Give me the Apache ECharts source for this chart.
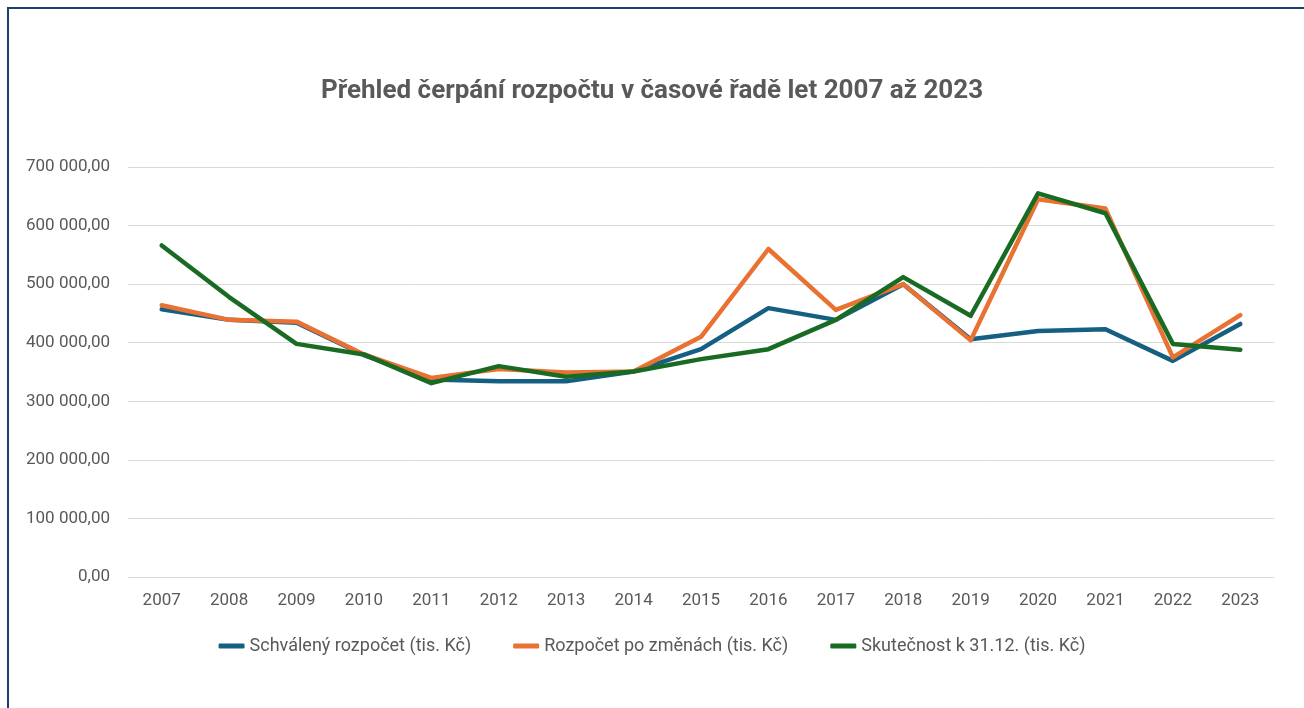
<!DOCTYPE html>
<html>
<head>
<meta charset="utf-8">
<script src="https://cdn.jsdelivr.net/npm/echarts@6/dist/echarts.min.js"></script>
<style>
html,body{margin:0;padding:0;background:#fff;overflow:hidden;}
#frame{position:absolute;left:7px;top:7px;width:1310px;height:720px;border-left:2px solid #1F3C6E;border-top:2px solid #1F3C6E;box-sizing:border-box;}
#chart{position:absolute;left:0;top:0;width:1304px;height:708px;}
</style>
</head>
<body>
<div id="frame"></div>
<div id="chart"></div>
<script>
const categories = ['2007','2008','2009','2010','2011','2012','2013','2014','2015','2016','2017','2018','2019','2020','2021','2022','2023'];
const schvaleny = [457000,439000,434000,379000,337000,334000,334000,351000,389000,459000,439000,500000,406000,420000,423000,369000,432000];
const poZmenach = [464000,439000,436000,380000,340000,355000,349000,351000,410000,560000,456000,500000,404000,645000,629000,375000,447000];
const skutecnost = [566000,478000,398000,380000,331000,360000,342000,351000,372000,389000,439000,512000,446000,655000,621000,398000,388000];
const seriesNames = ['Schválený rozpočet (tis. Kč)','Rozpočet po změnách (tis. Kč)','Skutečnost k 31.12. (tis. Kč)'];
const colors = ['#156082','#E97132','#196B24'];

const FONT = '"Roboto", "Liberation Sans", sans-serif';
function fmt(v){
  const s = Math.round(v).toString().replace(/\B(?=(\d{3})+(?!\d))/g,' ');
  return s + ',00';
}
const chart = echarts.init(document.getElementById('chart'));
const data = [schvaleny, poZmenach, skutecnost];
chart.setOption({
  backgroundColor: 'transparent',
  animation: false,
  title: {
    text: 'Přehled čerpání rozpočtu v časové řadě let 2007 až 2023',
    left: 'center',
    top: 73,
    textStyle: {fontFamily: FONT, fontSize: 26, fontWeight: 'bold', color: '#595959'}
  },
  legend: {
    top: 632,
    left: 'center',
    itemWidth: 26,
    itemHeight: 5,
    itemGap: 42,
    icon: 'roundRect',
    textStyle: {fontFamily: FONT, fontSize: 18, color: '#595959'},
    data: seriesNames
  },
  grid: {left: 128, right: 30, top: 167, bottom: 131, containLabel: false},
  xAxis: {
    type: 'category',
    data: categories,
    boundaryGap: true,
    axisLine: {show: false},
    axisTick: {show: false},
    axisLabel: {fontFamily: FONT, fontSize: 17, color: '#595959', margin: 15}
  },
  yAxis: {
    type: 'value',
    min: 0,
    max: 700000,
    interval: 100000,
    axisLine: {show: false},
    axisTick: {show: false},
    splitLine: {lineStyle: {color: '#D9D9D9', width: 1}},
    axisLabel: {fontFamily: FONT, fontSize: 17, color: '#595959', margin: 18, formatter: fmt}
  },
  series: data.map((d, i) => ({
    name: seriesNames[i],
    type: 'line',
    data: d,
    symbol: 'none',
    color: colors[i],
    lineStyle: {width: 4.5, color: colors[i], join: 'round', cap: 'round'}
  }))
});
</script>
</body>
</html>
